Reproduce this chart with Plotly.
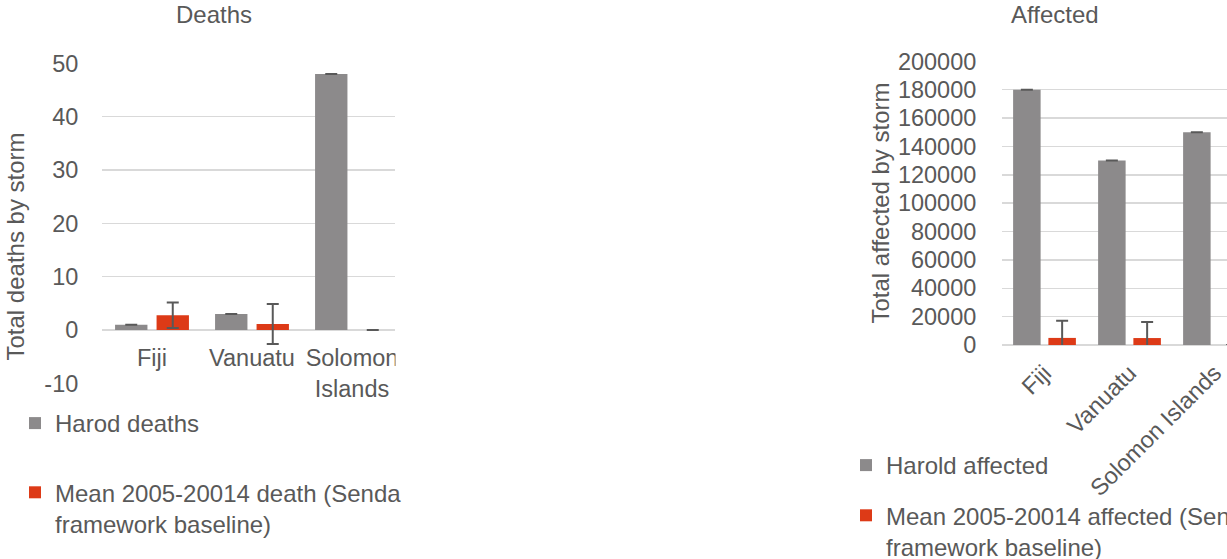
import plotly.graph_objects as go

W, H = 1227, 559

def px(x):
    return x / W

def py(y):
    return 1 - y / H

countries = ["Fiji", "Vanuatu", "Solomon Islands"]
deaths_ticktext = ["Fiji", "Vanuatu", "Solomon<br>Islands"]
deaths_yticks = [-10, 0, 10, 20, 30, 40, 50]
deaths_yticklabels = ["-10", "0", "10", "20", "30", "40", "50"]

harold_deaths = [1, 3, 48]
harold_deaths_err = [0, 0, 0]
mean_deaths = [2.75, 1.12, 0]
mean_deaths_err = [2.4, 3.75, 0]

harold_affected = [180000, 130000, 150000]
harold_affected_err = [0, 0, 0]
mean_affected = [5000, 4900, 0]
mean_affected_err = [12100, 11400, 0]

GRAY = "#8c8a8b"
RED = "#dd3a17"
TXT = "#595959"
GRID = "#d9d9d9"
FONT = "Arial, Liberation Sans, sans-serif"
FS = 23.5
FS_T = 24

err_style = dict(type="data", visible=True, color="#595959", thickness=2, width=6)

fig = go.Figure()
fig.add_trace(go.Bar(x=countries, y=harold_deaths, name="Harod deaths",
                     marker=dict(color=GRAY, line=dict(width=0)),
                     error_y=dict(array=harold_deaths_err, **err_style),
                     xaxis="x", yaxis="y", legend="legend", legendgroup="a"))
fig.add_trace(go.Bar(x=countries, y=mean_deaths,
                     name="Mean 2005-20014 death (Senda<br>framework baseline)",
                     marker=dict(color=RED, line=dict(width=0)),
                     error_y=dict(array=mean_deaths_err, **err_style),
                     xaxis="x", yaxis="y", legend="legend", legendgroup="b"))
fig.add_trace(go.Bar(x=countries, y=harold_affected, name="Harold affected",
                     marker=dict(color=GRAY, line=dict(width=0)),
                     error_y=dict(array=harold_affected_err, **err_style),
                     xaxis="x2", yaxis="y2", legend="legend2", legendgroup="c"))
fig.add_trace(go.Bar(x=countries, y=mean_affected,
                     name="Mean 2005-20014 affected (Sendai<br>framework baseline)",
                     marker=dict(color=RED, line=dict(width=0)),
                     error_y=dict(array=mean_affected_err, **err_style),
                     xaxis="x2", yaxis="y2", legend="legend2", legendgroup="d"))

axis_font = dict(family=FONT, size=FS, color=TXT)
title_font = dict(family=FONT, size=FS_T, color=TXT)

fig.update_layout(
    width=W, height=H,
    margin=dict(l=0, r=0, t=0, b=0, autoexpand=False),
    paper_bgcolor="white", plot_bgcolor="white",
    font=dict(family=FONT, size=FS, color=TXT),
    barmode="group", bargap=0.17, bargroupgap=0.22,
    showlegend=True,
    xaxis=dict(domain=[px(102), px(395)], range=[-0.5, 2.43],
               anchor="free", position=py(330),
               tickmode="array", tickvals=countries, ticktext=deaths_ticktext,
               showgrid=False, zeroline=False, showline=False,
               ticks="outside", ticklen=7, tickcolor="rgba(0,0,0,0)",
               tickfont=axis_font),
    yaxis=dict(domain=[py(383.3), py(63.3)], range=[-10, 50],
               tickmode="array", tickvals=deaths_yticks, ticktext=deaths_yticklabels,
               anchor="x", showgrid=True, gridcolor=GRID, gridwidth=1.5,
               zeroline=True, zerolinecolor=GRID, zerolinewidth=1.5,
               showline=False, ticks="outside", ticklen=18,
               tickcolor="rgba(0,0,0,0)", tickfont=axis_font),
    xaxis2=dict(domain=[px(1002), 1.0], range=[-0.5, -0.5 + (1227 - 1002) / 85],
                anchor="y2",
                tickangle=-45, showgrid=False, zeroline=False, showline=False,
                ticks="outside", ticklen=4, tickcolor="rgba(0,0,0,0)",
                tickfont=axis_font),
    yaxis2=dict(domain=[py(345), py(61.3)], range=[0, 200000], dtick=20000,
                tickformat="d", anchor="x2", showgrid=True, gridcolor=GRID,
                gridwidth=1.5, zeroline=True, zerolinecolor=GRID,
                zerolinewidth=1.5, showline=False, ticks="outside", ticklen=20,
                tickcolor="rgba(0,0,0,0)", tickfont=axis_font),
    legend=dict(x=px(15), y=py(401), xanchor="left", yanchor="top",
                font=title_font, valign="top",
                tracegroupgap=35, bgcolor="rgba(0,0,0,0)"),
    legend2=dict(x=px(846), y=py(443), xanchor="left", yanchor="top",
                 font=title_font, valign="top",
                 tracegroupgap=16, bgcolor="rgba(0,0,0,0)"),
    annotations=[
        dict(text="Deaths", x=px(214), y=py(15), xref="paper", yref="paper",
             showarrow=False, font=title_font, xanchor="center", yanchor="middle"),
        dict(text="Affected", x=px(1055), y=py(15), xref="paper", yref="paper",
             showarrow=False, font=title_font, xanchor="center", yanchor="middle"),
        dict(text="Total deaths by storm", x=px(15), y=py(246.5), xref="paper",
             yref="paper", showarrow=False, textangle=-90, font=title_font,
             xanchor="center", yanchor="middle"),
        dict(text="Total affected by storm", x=px(880), y=py(203.5), xref="paper",
             yref="paper", showarrow=False, textangle=-90, font=title_font,
             xanchor="center", yanchor="middle"),
    ],
    shapes=[
        dict(type="rect", xref="paper", yref="paper", x0=px(395.5), x1=px(460),
             y0=py(405), y1=py(338), fillcolor="white", line=dict(width=0),
             layer="above"),
    ],
)

fig.write_html("out.html",
               config={"displayModeBar": False, "staticPlot": True},
               post_script="document.body.style.margin='0';document.body.style.overflow='hidden';")
